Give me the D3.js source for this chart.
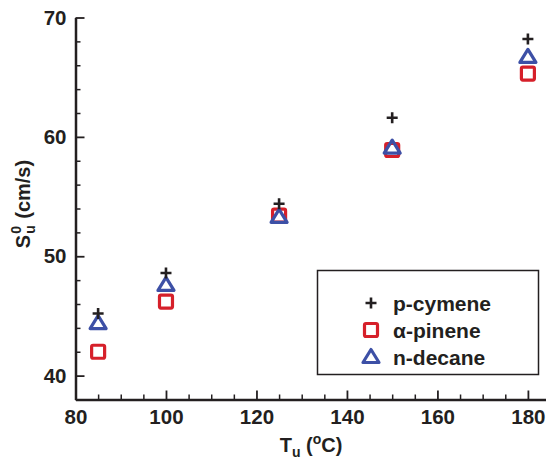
<!DOCTYPE html>
<html><head><meta charset="utf-8">
<script src="https://cdn.jsdelivr.net/npm/d3@7"></script>
<style>body{margin:0;background:#fff}svg{display:block}text{font-family:"Liberation Sans",Arial,Helvetica,sans-serif;font-weight:bold;fill:#231f20}</style>
</head><body><svg id="chart" width="546" height="464"></svg>
<script>
// Unburned gas temperature (°C) and laminar flame speed (cm/s)
const temperatures = [85, 100, 125, 150, 180];
const pCymene = [45.2, 48.6, 54.4, 61.6, 68.2];
const alphaPinene = [42.0, 46.2, 53.4, 58.9, 65.3];
const nDecane = [44.4, 47.6, 53.3, 59.1, 66.7];
const seriesNames = ["p-cymene", "α-pinene", "n-decane"];
const xTicks = [80, 100, 120, 140, 160, 180];
const yTicks = [40, 50, 60, 70];

const svg = d3.select("#chart");
const x = d3.scaleLinear().domain([80, 184]).range([75.5, 546]);
const y = d3.scaleLinear().domain([38, 70]).range([399.5, 17.5]);

const ink = "#231f20";
const red = "#d6202a";
const blue = "#3d50a6";

// minor ticks
const xMinor = d3.range(85, 184, 5).filter(v => v % 20 !== 0);
const yMinor = d3.range(38, 70, 2).filter(v => v % 10 !== 0);

svg.append("g").attr("transform", `translate(0,${y(38)})`)
  .call(d3.axisBottom(x).tickValues(xMinor).tickSize(-5).tickSizeOuter(0).tickFormat(""))
  .call(g => g.select(".domain").remove())
  .call(g => g.selectAll("line").attr("stroke", ink).attr("stroke-width", 1.5));
svg.append("g").attr("transform", `translate(${x(80)},0)`)
  .call(d3.axisLeft(y).tickValues(yMinor).tickSize(-5).tickSizeOuter(0).tickFormat(""))
  .call(g => g.select(".domain").remove())
  .call(g => g.selectAll("line").attr("stroke", ink).attr("stroke-width", 1.5));

// major axes
const xAxis = svg.append("g").attr("transform", `translate(0,${y(38)})`)
  .call(d3.axisBottom(x).tickValues(xTicks).tickSize(-9).tickSizeOuter(0).tickPadding(10));
const yAxis = svg.append("g").attr("transform", `translate(${x(80)},0)`)
  .call(d3.axisLeft(y).tickValues(yTicks).tickSize(-9).tickSizeOuter(0).tickPadding(9));
[xAxis, yAxis].forEach(g => {
  g.select(".domain").attr("stroke", ink).attr("stroke-width", 2.5);
  g.selectAll(".tick line").attr("stroke", ink).attr("stroke-width", 1.8);
  g.selectAll(".tick text").attr("fill", ink).style("font-size", "20.5px")
    .style("font-family", '"Liberation Sans",Arial,sans-serif').style("font-weight", "bold");
});

// marker shapes
const plusPath = "M-5.5,0H5.5M0,-5.5V5.5";
const triPath = "M0,-7.5L8,5.5L-8,5.5Z";
function drawMarker(g, kind) {
  if (kind === 0) {
    g.append("path").attr("d", plusPath).attr("stroke", ink).attr("stroke-width", 2.6).attr("fill", "none");
  } else if (kind === 1) {
    g.append("rect").attr("x", -6.5).attr("y", -6.5).attr("width", 13).attr("height", 13).attr("rx", 1.5)
      .attr("fill", "none").attr("stroke", red).attr("stroke-width", 3.2);
  } else {
    g.append("path").attr("d", triPath).attr("fill", "none").attr("stroke", blue)
      .attr("stroke-width", 3.2).attr("stroke-linejoin", "round");
  }
}

const series = [alphaPinene, nDecane, pCymene];
const kinds = [1, 2, 0];
series.forEach((vals, si) => {
  svg.append("g").selectAll("g").data(vals).join("g")
    .attr("transform", (d, i) => `translate(${x(temperatures[i])},${y(d)})`)
    .each(function () { drawMarker(d3.select(this), kinds[si]); });
});

// legend
const legend = svg.append("g");
legend.append("rect").attr("x", 317.5).attr("y", 270.5).attr("width", 221).attr("height", 104)
  .attr("fill", "#fff").attr("stroke", ink).attr("stroke-width", 1.5);
seriesNames.forEach((name, i) => {
  const row = legend.append("g").attr("transform", `translate(371,${303 + i * 27})`);
  drawMarker(row, i);
  row.append("text").attr("x", 22).attr("dy", "0.36em").style("font-size", "21px").text(name);
});

// axis titles
const xt = svg.append("text").attr("x", 311).attr("y", 452).attr("text-anchor", "middle").style("font-size", "20px");
xt.append("tspan").text("T");
xt.append("tspan").attr("dy", 5).style("font-size", "14px").text("u");
xt.append("tspan").attr("dy", -5).text(" (");
xt.append("tspan").attr("dy", -8).style("font-size", "14px").text("o");
xt.append("tspan").attr("dy", 8).text("C)");

const yt = svg.append("g").attr("transform", "translate(30,204) rotate(-90)");
const s = yt.append("text").style("font-size", "20px").text("S");
const sw = s.node().getComputedTextLength();
yt.append("text").attr("x", sw + 1).attr("y", 5).style("font-size", "14px").text("u");
yt.append("text").attr("x", sw + 1).attr("y", -9).style("font-size", "14px").text("0");
const rest = yt.append("text").attr("x", sw + 16).style("font-size", "20px").text("(cm/s)");
const total = sw + 16 + rest.node().getComputedTextLength();
yt.selectAll("text").attr("transform", `translate(${-total / 2},0)`);
</script></body></html>
